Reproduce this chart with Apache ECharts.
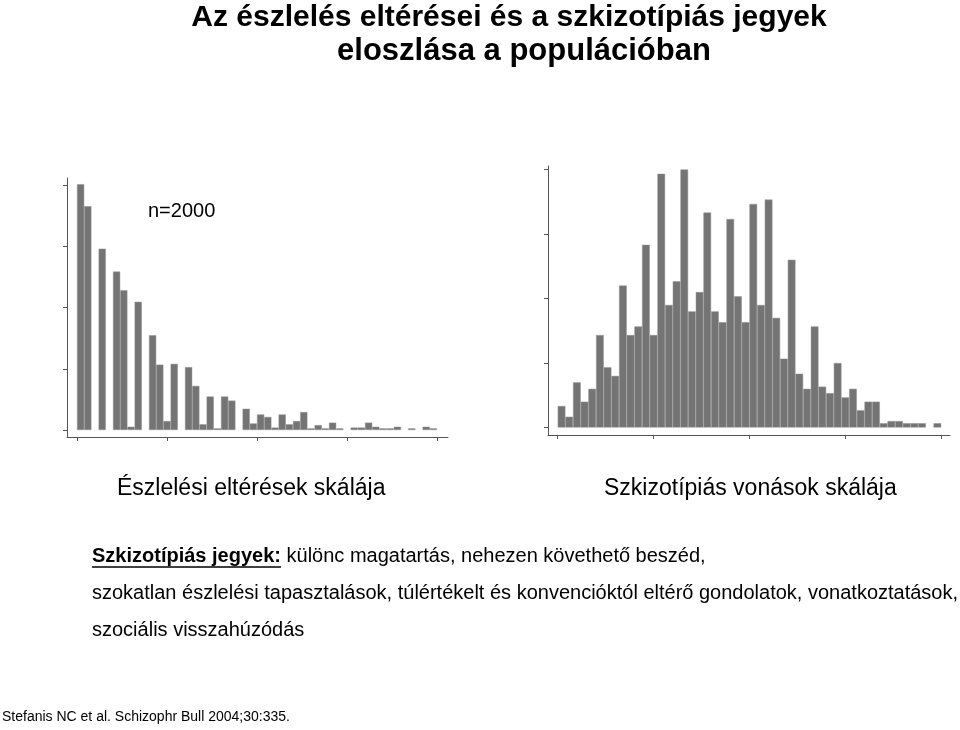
<!DOCTYPE html>
<html><head><meta charset="utf-8">
<script src="https://cdn.jsdelivr.net/npm/echarts@6/dist/echarts.min.js"></script>
<style>html,body{margin:0;padding:0;background:#fff}#c{width:960px;height:730px}</style>
</head><body><div id="c"></div>
<script>
// ---- data ----
const titleLine1 = 'Az észlelés eltérései és a szkizotípiás jegyek';
const titleLine2 = 'eloszlása a populációban';
const sampleNote = 'n=2000';
const leftScaleName = 'Észlelési eltérések skálája';
const rightScaleName = 'Szkizotípiás vonások skálája';
const noteBold = 'Szkizotípiás jegyek:';
const noteLine1 = ' különc magatartás, nehezen követhető beszéd,';
const noteLine2 = 'szokatlan észlelési tapasztalások, túlértékelt és konvencióktól eltérő gondolatok, vonatkoztatások,';
const noteLine3 = 'szociális visszahúzódás';
const citation = 'Stefanis NC et al. Schizophr Bull 2004;30:335.';

// frequency per bin (50 bins each)
const leftCounts = [301,274,0,222,0,194,171,4,157,0,
                    116,80,11,81,0,77,54,7,41,2,
                    41,36,0,26,8,19,16,3,19,7,
                    11,22,2,6,2,9,2,0,3,3,
                    9,4,2,2,4,0,2,0,4,2];
const rightCounts = [10,5,21,12,18,43,28,24,66,43,
                     47,85,43,118,57,68,120,54,63,100,
                     54,49,97,61,49,104,57,106,51,32,
                     78,25,18,47,19,16,30,14,18,8,
                     12,12,2,3,3,2,2,2,0,2];
const xTickValues = [0, 12.5, 25, 37.5, 50];
const leftYTicks = [0, 75, 150, 225, 300];
const rightYTicks = [0, 30, 60, 90, 120];

// ---- chart ----
const FONT = '"Liberation Sans", Arial, sans-serif';
const axisCol = '#555';
function toBars(arr){ const out=[]; arr.forEach((v,i)=>{ if(v>0) out.push([i+0.5, v]); }); return out; }

const mc = document.createElement('canvas').getContext('2d');
mc.font = 'bold 20px ' + FONT;
const boldW = mc.measureText(noteBold).width;

function xAx(gi, min, max){
  return {gridIndex: gi, type:'value', min:min, max:max,
    axisLine:{show:true, onZero:false, lineStyle:{color:axisCol, width:1}},
    axisTick:{show:true, length:4, inside:false, customValues:xTickValues, lineStyle:{color:axisCol}},
    axisLabel:{show:false}, splitLine:{show:false}};
}
function yAx(gi, min, max, ticks){
  return {gridIndex: gi, type:'value', min:min, max:max,
    axisLine:{show:true, onZero:false, lineStyle:{color:axisCol, width:1}},
    axisTick:{show:true, length:4, inside:false, customValues:ticks, lineStyle:{color:axisCol}},
    axisLabel:{show:false}, splitLine:{show:false}};
}
const barStyle = {color:'#747474', borderColor:'#959595', borderWidth:0.5};

const option = {
  backgroundColor:'#fff',
  animation:false,
  grid:[
    {left:67, top:178, width:381, height:259},
    {left:548, top:166, width:402, height:269}
  ],
  xAxis:[ xAx(0, -1.389, 51.53), xAx(1, -1.265, 51.15) ],
  yAxis:[ yAx(0, -8.57, 308.57, leftYTicks), yAx(1, -3.49, 121.63, rightYTicks) ],
  series:[
    {type:'bar', xAxisIndex:0, yAxisIndex:0, barWidth:7.2, data:toBars(leftCounts), itemStyle:barStyle},
    {type:'bar', xAxisIndex:1, yAxisIndex:1, barWidth:7.67, data:toBars(rightCounts), itemStyle:barStyle}
  ],
  graphic:[
    {type:'text', x:509, y:18, style:{text:titleLine1, font:'bold 30px '+FONT, fill:'#000', align:'center', verticalAlign:'middle'}},
    {type:'text', x:524, y:51, style:{text:titleLine2, font:'bold 31px '+FONT, fill:'#000', align:'center', verticalAlign:'middle'}},
    {type:'text', x:148, y:211, style:{text:sampleNote, font:'20px '+FONT, fill:'#000', align:'left', verticalAlign:'middle'}},
    {type:'text', x:117, y:489, style:{text:leftScaleName, font:'23px '+FONT, fill:'#000', align:'left', verticalAlign:'middle'}},
    {type:'text', x:604, y:489, style:{text:rightScaleName, font:'23px '+FONT, fill:'#000', align:'left', verticalAlign:'middle'}},
    {type:'text', x:92, y:556, style:{text:'{b|'+noteBold+'}'+noteLine1, font:'20px '+FONT, fill:'#000', align:'left', verticalAlign:'middle',
        rich:{b:{fontWeight:'bold', fontSize:20, fontFamily:FONT}}}},
    {type:'line', shape:{x1:92, y1:567, x2:92+boldW, y2:567}, style:{stroke:'#000', lineWidth:1.5}},
    {type:'text', x:92, y:593, style:{text:noteLine2, font:'20px '+FONT, fill:'#000', align:'left', verticalAlign:'middle'}},
    {type:'text', x:92, y:630, style:{text:noteLine3, font:'20px '+FONT, fill:'#000', align:'left', verticalAlign:'middle'}},
    {type:'text', x:2, y:717, style:{text:citation, font:'14px '+FONT, fill:'#000', align:'left', verticalAlign:'middle'}}
  ]
};
const chart = echarts.init(document.getElementById('c'), null, {renderer:'canvas'});
chart.setOption(option);
</script></body></html>
